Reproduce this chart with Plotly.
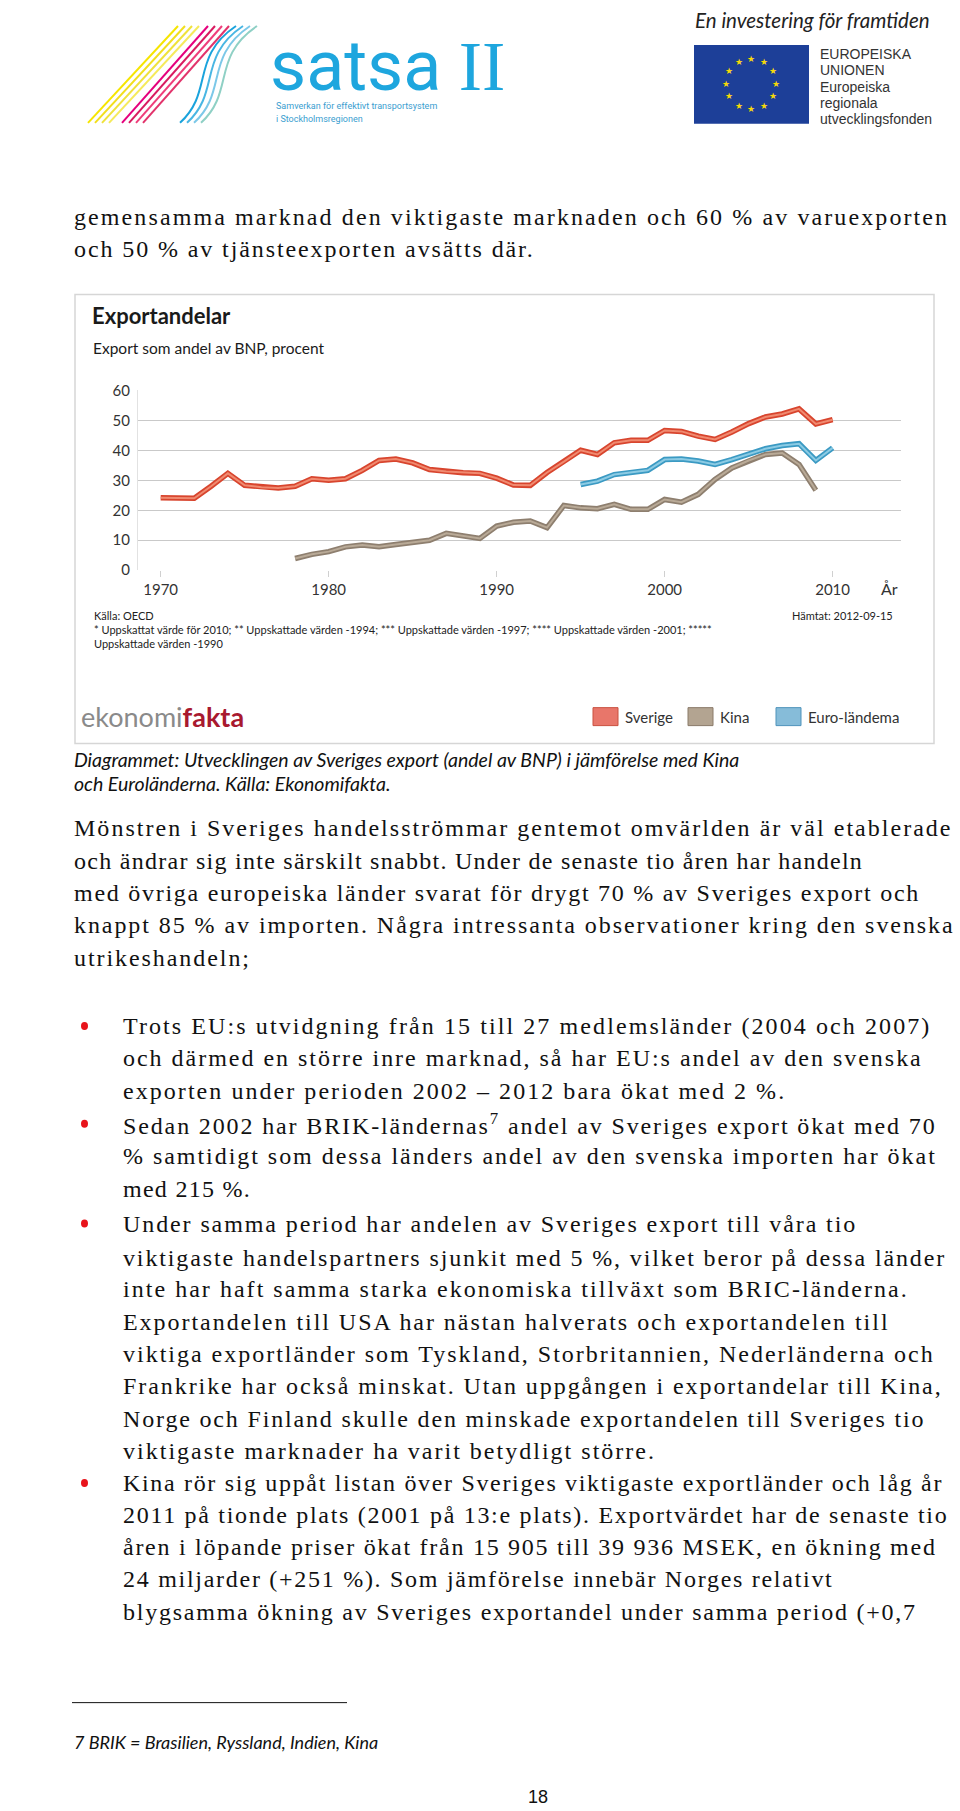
import math
import plotly.graph_objects as go

# Exportandelar - export som andel av BNP, procent
sverige_ar = list(range(1970, 2011))
sverige = [24.2, 24.0, 24.0, 28.0, 32.3, 28.3, 27.7, 27.4, 28.0, 30.5,
           30.0, 30.5, 33.3, 36.6, 37.1, 35.8, 33.6, 32.9, 32.5, 32.3,
           30.7, 28.4, 28.3, 32.6, 36.2, 40.0, 38.6, 42.5, 43.3, 43.3,
           46.6, 46.3, 44.7, 43.6, 46.1, 48.9, 51.1, 52.1, 53.8, 48.8, 50.2]

kina_ar = list(range(1978, 2010))
kina = [3.9, 5.3, 6.2, 7.8, 8.4, 7.8, 8.6, 9.2, 10.0, 12.3, 11.4, 10.6,
        14.7, 16.0, 16.4, 14.2, 21.6, 20.8, 20.5, 22.0, 20.3, 20.3,
        23.6, 22.7, 25.3, 30.3, 34.1, 36.6, 38.6, 39.1, 35.3, 26.7]

euro_ar = list(range(1995, 2011))
euro = [28.6, 29.7, 31.9, 32.7, 33.3, 36.9, 37.1, 36.4, 35.3, 36.9,
        38.6, 40.5, 41.6, 42.2, 36.6, 40.8]

x_ticks = [1970, 1980, 1990, 2000, 2010]
y_ticks = [0, 10, 20, 30, 40, 50, 60]

W, H = 960, 1811


def px(x):
    return x / W


def py(y):
    # liten korrigering, bilden hamnade lite för lågt upptill och för högt nedtill
    return 1 - (1.008 * y - 8) / H


fig = go.Figure()

# linjer: mörk kant under, ljusare mitt ovanpå
serier = [
    (sverige_ar, sverige, "#d8452e", "#f08a70"),
    (kina_ar, kina, "#8e7f6f", "#b9aa97"),
    (euro_ar, euro, "#3b9ac3", "#8ccbe4"),
]
for ar, v, kant, mitt in serier:
    fig.add_trace(go.Scatter(x=ar, y=v, mode="lines",
                             line=dict(color=kant, width=5.5), hoverinfo="skip"))
    fig.add_trace(go.Scatter(x=ar, y=v, mode="lines",
                             line=dict(color=mitt, width=2), hoverinfo="skip"))

fig.update_xaxes(range=[1968.65, 2014.07], domain=[px(138), px(901)],
                 tickvals=x_ticks, showgrid=False, zeroline=False,
                 ticks="outside", ticklen=6, tickcolor="#d0d0d0",
                 showline=False,
                 tickfont=dict(family="Lato", size=15, color="#333333"))
fig.update_yaxes(range=[0, 60], domain=[py(569.3), py(389)],
                 tickvals=y_ticks, showgrid=True, gridcolor="#c9c9c9",
                 gridwidth=1, zeroline=False, showline=True,
                 linecolor="#e2e2e2", ticks="", ticklabelstandoff=4,
                 tickfont=dict(family="Lato", size=15, color="#333333"))

ann = []
shapes = []


def txt(x, y, s, size, color="#111111", family="Liberation Serif",
        anchor="left", style="normal", weight="normal"):
    ann.append(dict(x=px(x), y=py(y), xref="paper", yref="paper", text=s,
                    showarrow=False, xanchor=anchor, yanchor="middle", align=anchor,
                    font=dict(size=size, color=color, family=family,
                              style=style, weight=weight)))


# ---- sidhuvud: satsa II ----
gul = ["#f6e500", "#f2df1c", "#efe23a", "#f5ea5a"]
for i, c in enumerate(gul):
    shapes.append(dict(type="line", xref="paper", yref="paper",
                       x0=px(88 + 7 * i), y0=py(121), x1=px(178 + 7 * i), y1=py(24),
                       line=dict(color=c, width=2)))
rosa = ["#e5007d", "#d81b60", "#ef3d7a", "#e2336b"]
for i, c in enumerate(rosa):
    shapes.append(dict(type="line", xref="paper", yref="paper",
                       x0=px(122 + 7 * i), y0=py(121), x1=px(208 + 7 * i), y1=py(24),
                       line=dict(color=c, width=2)))
bla = ["#1aa3dc", "#49b6e3", "#7cc8e8", "#8fd0c5"]
for i, c in enumerate(bla):
    x0, x1 = 180 + 7 * i, 236 + 7 * i
    path = "M {} {} C {} {}, {} {}, {} {}".format(
        px(x0), py(121), px(x0 + 34), py(90), px(x0 + 10), py(55), px(x1), py(24))
    shapes.append(dict(type="path", xref="paper", yref="paper", path=path,
                       line=dict(color=c, width=2)))

txt(268, 64, "<span style='font-family:Roboto'>satsa</span>"
    "<span style='font-family:Liberation Serif'> II</span>",
    70, color="#1ea6de", family="Roboto")
txt(274, 104, "Samverkan för effektivt transportsystem", 9, "#3a9ed0", "Roboto")
txt(274, 117, "i Stockholmsregionen", 9, "#3a9ed0", "Roboto")

# ---- sidhuvud: EU ----
txt(693, 18, "En investering för framtiden", 20.5, "#222222", "Lato", style="italic")
shapes.append(dict(type="rect", xref="paper", yref="paper",
                   x0=px(694), x1=px(809), y0=py(122), y1=py(43),
                   fillcolor="#1d3f98", line=dict(width=0)))
for k in range(12):
    a = 2 * math.pi * k / 12
    txt(751 + 25 * math.sin(a), 82 - 25 * math.cos(a), "★", 9, "#f5d90a",
        "DejaVu Sans", anchor="center")
eu_rader = ["EUROPEISKA", "UNIONEN", "Europeiska", "regionala", "utvecklingsfonden"]
for i, r in enumerate(eu_rader):
    txt(818, 52 + 16.3 * i, r, 14, "#333333", "Liberation Sans")

# ---- brödtext ----
# teckenbredder för Times/Liberation Serif (1/1000 em) så att varje rad
# kan spärras ut till samma högerkant som i originalet
TIMES = {" ": 250, "a": 444, "b": 500, "c": 444, "d": 500, "e": 444, "f": 333,
         "g": 500, "h": 500, "i": 278, "j": 278, "k": 500, "l": 278, "m": 778,
         "n": 500, "o": 500, "p": 500, "q": 500, "r": 333, "s": 389, "t": 278,
         "u": 500, "v": 500, "w": 722, "x": 500, "y": 500, "z": 444,
         "å": 444, "ä": 444, "ö": 500, "A": 722, "B": 667, "C": 667, "D": 722,
         "E": 611, "F": 556, "G": 722, "H": 722, "I": 333, "K": 722, "M": 889,
         "N": 722, "R": 667, "S": 556, "T": 611, "U": 722, "Å": 722, "Ä": 722,
         "Ö": 722, ".": 250, ",": 250, ":": 278, ";": 278, "(": 333, ")": 333,
         "%": 833, "+": 564, "-": 333, "–": 500}


def brod(x, y, s, hoger, size=24):
    ren = s.replace("<sup>", "").replace("</sup>", "")
    bredd = sum(TIMES.get(ch, 500) for ch in ren) * size / 1000
    sp = (hoger - x - bredd) / len(ren)
    txt(x, y, "<span style='letter-spacing:%.2fpx'>%s</span>" % (sp, s), size,
        "#111111", "Liberation Serif")


brod(72, 215, "gemensamma marknad den viktigaste marknaden och 60 % av varuexporten", 947)
brod(72, 247, "och 50 % av tjänsteexporten avsätts där.", 534)

# ---- diagramruta ----
shapes.append(dict(type="rect", xref="paper", yref="paper",
                   x0=px(75), x1=px(934), y0=py(743), y1=py(293),
                   line=dict(color="#d6d6d6", width=1.5), fillcolor="rgba(0,0,0,0)"))
txt(90, 314, "Exportandelar", 22, "#1a1a1a", "Lato", weight="bold")
txt(91, 347, "Export som andel av BNP, procent", 15.5, "#1a1a1a", "Lato")
txt(889, 588, "År", 16, "#333333", "Lato", anchor="center")
txt(92, 615, "Källa: OECD", 11, "#222222", "Lato")
txt(895, 615, "Hämtat: 2012-09-15", 11, "#222222", "Lato", anchor="right")
txt(92, 629, "* Uppskattat värde för 2010; ** Uppskattade värden -1994; *** Uppskattade "
    "värden -1997; **** Uppskattade värden -2001; *****", 11, "#222222", "Lato")
txt(92, 643, "Uppskattade värden -1990", 11, "#222222", "Lato")
txt(79, 716, "<span style='color:#8a8a8a'>ekonomi</span>"
    "<span style='color:#a8192f'><b>fakta</b></span>", 27, "#8a8a8a", "Lato")

legend = [("Sverige", "#e8766a", "#c9503f", 593),
          ("Kina", "#b3a491", "#8a7a69", 688),
          ("Euro-ländema", "#86bcd9", "#4f93bb", 776)]
for namn, fyll, kant, x0 in legend:
    shapes.append(dict(type="rect", xref="paper", yref="paper",
                       x0=px(x0), x1=px(x0 + 25), y0=py(725), y1=py(707),
                       fillcolor=fyll, line=dict(color=kant, width=1)))
    txt(x0 + 30, 716, namn, 15, "#333333", "Lato")

txt(72, 759, "Diagrammet: Utvecklingen av Sveriges export (andel av BNP) i jämförelse med Kina",
    19.5, "#111111", "Lato", style="italic")
txt(72, 783, "och Euroländerna. Källa: Ekonomifakta.", 19.5, "#111111", "Lato", style="italic")

stycke = [
    (828, "Mönstren i Sveriges handelsströmmar gentemot omvärlden är väl etablerade", 951),
    (861, "och ändrar sig inte särskilt snabbt. Under de senaste tio åren har handeln", 861),
    (893, "med övriga europeiska länder svarat för drygt 70 % av Sveriges export och", 918),
    (925, "knappt 85 % av importen. Några intressanta observationer kring den svenska", 953),
    (958, "utrikeshandeln;", 249),
]
for y, s, hoger in stycke:
    brod(72, y, s, hoger)

punkter = [
    (1026, "Trots EU:s utvidgning från 15 till 27 medlemsländer (2004 och 2007)", 930, True),
    (1058, "och därmed en större inre marknad, så har EU:s andel av den svenska", 921, False),
    (1091, "exporten under perioden 2002 – 2012 bara ökat med 2 %.", 784, False),
    (1124, "Sedan 2002 har BRIK-ländernas<sup>7</sup> andel av Sveriges export ökat med 70", 938, True),
    (1156, "% samtidigt som dessa länders andel av den svenska importen har ökat", 935, False),
    (1189, "med 215 %.", 249, False),
    (1224, "Under samma period har andelen av Sveriges export till våra tio", 855, True),
    (1258, "viktigaste handelspartners sjunkit med 5 %, vilket beror på dessa länder", 944, False),
    (1290, "inte har haft samma starka ekonomiska tillväxt som BRIC-länderna.", 907, False),
    (1323, "Exportandelen till USA har nästan halverats och exportandelen till", 889, False),
    (1355, "viktiga exportländer som Tyskland, Storbritannien, Nederländerna och", 935, False),
    (1387, "Frankrike har också minskat. Utan uppgången i exportandelar till Kina,", 941, False),
    (1420, "Norge och Finland skulle den minskade exportandelen till Sveriges tio", 924, False),
    (1452, "viktigaste marknader ha varit betydligt större.", 654, False),
    (1484, "Kina rör sig uppåt listan över Sveriges viktigaste exportländer och låg år", 941, True),
    (1516, "2011 på tionde plats (2001 på 13:e plats). Exportvärdet har de senaste tio", 947, False),
    (1548, "åren i löpande priser ökat från 15 905 till 39 936 MSEK, en ökning med", 935, False),
    (1580, "24 miljarder (+251 %). Som jämförelse innebär Norges relativt", 832, False),
    (1613, "blygsamma ökning av Sveriges exportandel under samma period (+0,7", 915, False),
]
for y, s, hoger, punkt in punkter:
    brod(121, y, s, hoger)
    if punkt:
        shapes.append(dict(type="circle", xref="paper", yref="paper",
                           x0=px(81), x1=px(88), y0=py(y + 4), y1=py(y - 4),
                           fillcolor="#e8141b", line=dict(width=0)))

# fotnot
shapes.append(dict(type="line", xref="paper", yref="paper",
                   x0=px(72), x1=px(347), y0=py(1704), y1=py(1704),
                   line=dict(color="#111111", width=1)))
txt(72, 1743, "7 BRIK = Brasilien, Ryssland, Indien, Kina", 18, "#111111", "Lato", style="italic")
txt(538, 1799, "18", 18, "#111111", "Liberation Sans", anchor="center")

fig.update_layout(width=W, height=H, margin=dict(l=0, r=0, t=0, b=0),
                  paper_bgcolor="white", plot_bgcolor="white", showlegend=False,
                  annotations=ann, shapes=shapes)

fig.write_html("out.html", config={"displayModeBar": False},
               post_script="document.body.style.margin='0';")
